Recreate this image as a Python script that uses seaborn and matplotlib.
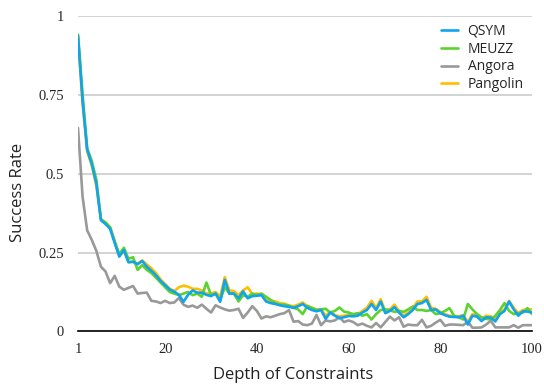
import numpy as np
import pandas as pd
import matplotlib
matplotlib.use("Agg")
import matplotlib.pyplot as plt
import seaborn as sns

depth = list(range(1, 101))

qsym = [0.935, 0.73, 0.575, 0.53, 0.468, 0.352, 0.34, 0.325, 0.28, 0.237,
        0.258, 0.219, 0.221, 0.213, 0.223, 0.205, 0.192, 0.178, 0.16, 0.147,
        0.133, 0.126, 0.116, 0.094, 0.116, 0.13, 0.123, 0.123, 0.116, 0.112,
        0.12, 0.094, 0.163, 0.12, 0.12, 0.105, 0.127, 0.105, 0.112, 0.113,
        0.115, 0.095, 0.09, 0.087, 0.083, 0.08, 0.078, 0.075, 0.08, 0.087,
        0.075, 0.068, 0.064, 0.068, 0.04, 0.06, 0.05, 0.042, 0.045, 0.049,
        0.048, 0.05, 0.06, 0.068, 0.087, 0.068, 0.095, 0.058, 0.065, 0.077,
        0.06, 0.045, 0.055, 0.068, 0.087, 0.09, 0.1, 0.068, 0.07, 0.058,
        0.052, 0.047, 0.046, 0.045, 0.05, 0.022, 0.05, 0.047, 0.033, 0.045,
        0.044, 0.032, 0.055, 0.065, 0.095, 0.07, 0.05, 0.064, 0.063, 0.06]

meuzz = [0.94, 0.75, 0.58, 0.54, 0.48, 0.355, 0.345, 0.33, 0.285, 0.245,
         0.265, 0.23, 0.235, 0.195, 0.21, 0.195, 0.185, 0.17, 0.155, 0.14,
         0.125, 0.12, 0.115, 0.12, 0.125, 0.115, 0.12, 0.11, 0.155, 0.115,
         0.12, 0.10, 0.14, 0.12, 0.12, 0.095, 0.115, 0.11, 0.12, 0.115,
         0.12, 0.11, 0.1, 0.09, 0.085, 0.085, 0.082, 0.075, 0.07, 0.055,
         0.081, 0.075, 0.068, 0.07, 0.072, 0.06, 0.065, 0.076, 0.063, 0.06,
         0.055, 0.058, 0.05, 0.055, 0.038, 0.055, 0.068, 0.07, 0.068, 0.062,
         0.065, 0.062, 0.07, 0.079, 0.068, 0.068, 0.065, 0.068, 0.055, 0.058,
         0.065, 0.074, 0.05, 0.045, 0.038, 0.087, 0.07, 0.055, 0.045, 0.04,
         0.038, 0.05, 0.068, 0.09, 0.065, 0.055, 0.058, 0.06, 0.074, 0.055]

angora = [0.644, 0.426, 0.32, 0.29, 0.255, 0.205, 0.19, 0.153, 0.176, 0.142,
          0.132, 0.138, 0.144, 0.12, 0.122, 0.123, 0.097, 0.095, 0.09, 0.097,
          0.09, 0.092, 0.106, 0.085, 0.078, 0.082, 0.075, 0.085, 0.072, 0.06,
          0.083, 0.076, 0.07, 0.066, 0.068, 0.072, 0.043, 0.06, 0.08, 0.065,
          0.041, 0.048, 0.045, 0.05, 0.055, 0.058, 0.068, 0.031, 0.033, 0.022,
          0.02, 0.025, 0.052, 0.02, 0.035, 0.032, 0.035, 0.045, 0.03, 0.035,
          0.03, 0.02, 0.025, 0.018, 0.013, 0.027, 0.013, 0.03, 0.047, 0.035,
          0.045, 0.015, 0.022, 0.02, 0.02, 0.037, 0.013, 0.018, 0.028, 0.037,
          0.018, 0.022, 0.022, 0.021, 0.02, 0.031, 0.012, 0.012, 0.013, 0.022,
          0.034, 0.013, 0.013, 0.013, 0.013, 0.02, 0.012, 0.02, 0.02, 0.02]

pangolin = [0.93, 0.72, 0.57, 0.525, 0.46, 0.355, 0.345, 0.33, 0.285, 0.24,
            0.255, 0.22, 0.22, 0.215, 0.225, 0.212, 0.2, 0.185, 0.165, 0.15,
            0.135, 0.128, 0.14, 0.145, 0.142, 0.135, 0.135, 0.13, 0.12, 0.12,
            0.125, 0.11, 0.172, 0.13, 0.128, 0.115, 0.13, 0.14, 0.118, 0.12,
            0.118, 0.1, 0.098, 0.095, 0.09, 0.088, 0.082, 0.08, 0.085, 0.092,
            0.08, 0.075, 0.07, 0.07, 0.05, 0.062, 0.052, 0.048, 0.05, 0.052,
            0.05, 0.055, 0.065, 0.075, 0.097, 0.075, 0.102, 0.065, 0.07, 0.085,
            0.065, 0.05, 0.06, 0.075, 0.095, 0.095, 0.11, 0.075, 0.072, 0.062,
            0.055, 0.05, 0.048, 0.048, 0.052, 0.03, 0.055, 0.05, 0.04, 0.05,
            0.048, 0.04, 0.06, 0.07, 0.097, 0.075, 0.058, 0.068, 0.07, 0.07]

series_names = ["QSYM", "MEUZZ", "Angora", "Pangolin"]
colors = {"QSYM": "#0FA3F0", "MEUZZ": "#5CD22E", "Angora": "#999999", "Pangolin": "#FFBE00"}

x_ticks = [1, 20, 40, 60, 80, 100]
y_ticks = [0, 0.25, 0.5, 0.75, 1]
y_tick_labels = ["0", "0.25", "0.5", "0.75", "1"]

df = pd.DataFrame({"depth": depth, "QSYM": qsym, "MEUZZ": meuzz,
                   "Angora": angora, "Pangolin": pangolin})
long = df.melt(id_vars="depth", var_name="tool", value_name="rate")

sns.set_theme(style="white")
plt.rcParams["font.family"] = ["Open Sans", "DejaVu Sans"]

fig = plt.figure(figsize=(5.44, 3.86), dpi=100)
ax = fig.add_axes([0.1434, 0.1412, 0.8346, 0.8186])

draw_order = ["Pangolin", "Angora", "MEUZZ", "QSYM"]
for i, name in enumerate(draw_order):
    sub = long[long["tool"] == name]
    sns.lineplot(data=sub, x="depth", y="rate", color=colors[name], linewidth=1.9,
                 ax=ax, label=name, zorder=3 + i)

ax.set_xlim(1, 100)
ax.set_ylim(0, 1)
ax.set_xticks(x_ticks)
ax.set_yticks(y_ticks)
ax.set_yticklabels(y_tick_labels)
for lab in ax.get_xticklabels() + ax.get_yticklabels():
    lab.set_fontfamily(["Liberation Serif"])
    lab.set_fontsize(10.5)
ax.tick_params(axis="both", length=0)
ax.tick_params(axis="x", pad=8)
ax.tick_params(axis="y", pad=10)

ax.grid(axis="y", color="#CCCCCC", linewidth=1.2)
ax.grid(axis="x", visible=False)
for s in ["top", "right", "left"]:
    ax.spines[s].set_visible(False)
ax.spines["bottom"].set_color("black")
ax.spines["bottom"].set_linewidth(1.2)
ax.spines["bottom"].set_zorder(10)

ax.set_xlabel("Depth of Constraints", fontsize=12, va="center", color="#222222")
ax.set_ylabel("Success Rate", fontsize=12, va="center", color="#222222")
ax.xaxis.set_label_coords(0.4736, -0.138)
ax.yaxis.set_label_coords(-0.132, 0.44)

handles, labels = ax.get_legend_handles_labels()
hmap = dict(zip(labels, handles))
leg = ax.legend([hmap[n] for n in series_names], series_names, loc="upper right",
                frameon=False, fontsize=10, handlelength=1.2, handletextpad=0.7,
                labelspacing=0.2, borderaxespad=0.2, bbox_to_anchor=(1.0, 1.0))

fig.savefig("out.png", dpi=100)
